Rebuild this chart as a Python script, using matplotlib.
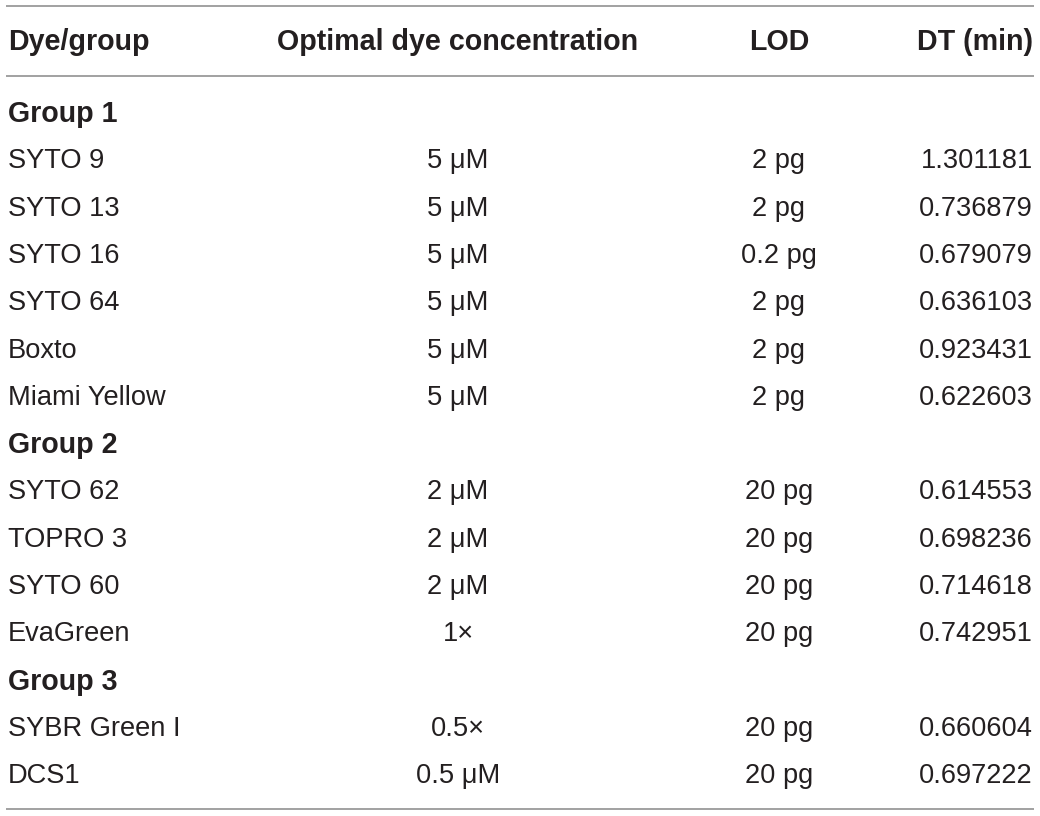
import matplotlib
matplotlib.use("Agg")
import matplotlib.pyplot as plt

headers = ["Dye/group", "Optimal dye concentration", "LOD", "DT (min)"]
rows = [
    ("Group 1", None, None, None),
    ("SYTO 9", "5 μM", "2 pg", "1.301181"),
    ("SYTO 13", "5 μM", "2 pg", "0.736879"),
    ("SYTO 16", "5 μM", "0.2 pg", "0.679079"),
    ("SYTO 64", "5 μM", "2 pg", "0.636103"),
    ("Boxto", "5 μM", "2 pg", "0.923431"),
    ("Miami Yellow", "5 μM", "2 pg", "0.622603"),
    ("Group 2", None, None, None),
    ("SYTO 62", "2 μM", "20 pg", "0.614553"),
    ("TOPRO 3", "2 μM", "20 pg", "0.698236"),
    ("SYTO 60", "2 μM", "20 pg", "0.714618"),
    ("EvaGreen", "1×", "20 pg", "0.742951"),
    ("Group 3", None, None, None),
    ("SYBR Green I", "0.5×", "20 pg", "0.660604"),
    ("DCS1", "0.5 μM", "20 pg", "0.697222"),
]

plt.rcParams["font.family"] = ["Liberation Sans", "DejaVu Sans"]

W, H = 1040, 816
fig = plt.figure(figsize=(W / 100, H / 100), dpi=100)
ax = fig.add_axes([0, 0, 1, 1])
ax.set_xlim(0, W)
ax.set_ylim(H, 0)
ax.axis("off")

fam = ["Liberation Sans", "DejaVu Sans"]
fs_body = 19.6
fs_head = 20.6
col_x = [8, 458, 779, 1033]
col_ha = ["left", "center", "center", "right"]
txt_color = "#231f20"
line_color = "#9a9a9a"

for y0 in [6, 76, 809]:
    ax.plot([6, 1034], [y0, y0], color=line_color, lw=1.3, solid_capstyle="butt")

header_y = 42
for h, x, ha in zip(headers, col_x, col_ha):
    ax.text(x, header_y, h, ha=ha, va="center", fontsize=fs_head, fontweight="bold",
            color=txt_color, family=fam)

y_start = 114
dy = 47.3
for i, r in enumerate(rows):
    y = y_start + i * dy
    if r[1] is None:
        ax.text(col_x[0], y, r[0], ha="left", va="center", fontsize=fs_head,
                fontweight="bold", color=txt_color, family=fam)
    else:
        for v, x, ha in zip(r, col_x, col_ha):
            ax.text(x, y, v, ha=ha, va="center", fontsize=fs_body, color=txt_color,
                    family=fam)

fig.savefig("out.png", dpi=100, facecolor="white")
